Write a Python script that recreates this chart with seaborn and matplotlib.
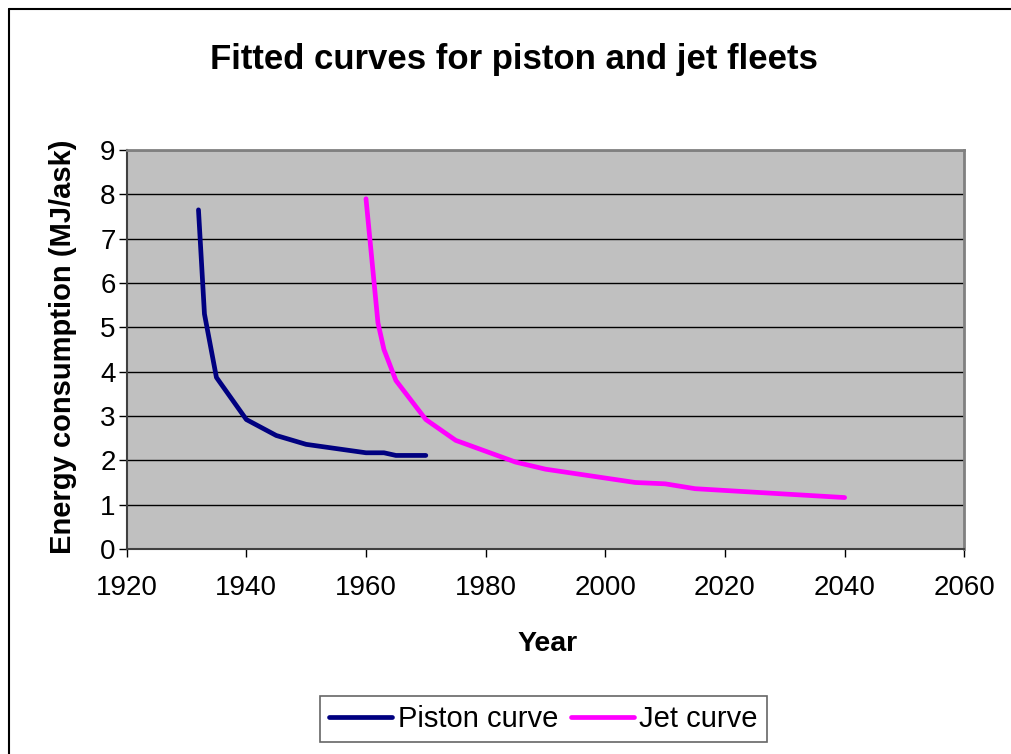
import matplotlib
matplotlib.use("Agg")
import matplotlib.pyplot as plt
import seaborn as sns
import pandas as pd
from matplotlib.lines import Line2D

piston_years = [1932, 1933, 1935, 1940, 1945, 1950, 1960, 1963, 1965, 1970]
piston_vals = [7.65, 5.3, 3.87, 2.92, 2.56, 2.36, 2.17, 2.17, 2.11, 2.11]
jet_years = [1960, 1962, 1963, 1965, 1970, 1975, 1985, 1990, 2005, 2010, 2015, 2040]
jet_vals = [7.9, 5.1, 4.5, 3.8, 2.92, 2.45, 1.96, 1.8, 1.5, 1.47, 1.36, 1.16]
series_names = ["Piston curve", "Jet curve"]
x_ticks = [1920, 1940, 1960, 1980, 2000, 2020, 2040, 2060]
y_ticks = list(range(0, 10))

df = pd.concat([
    pd.DataFrame({"Year": piston_years, "E": piston_vals, "Series": series_names[0]}),
    pd.DataFrame({"Year": jet_years, "E": jet_vals, "Series": series_names[1]}),
])

sns.set_theme(style="white")
plt.rcParams["font.family"] = ["Liberation Sans", "DejaVu Sans"]
plt.rcParams["text.color"] = "black"
plt.rcParams["xtick.color"] = "black"
plt.rcParams["ytick.color"] = "black"

fig = plt.figure(figsize=(10.11, 7.54), dpi=100)
ax = fig.add_axes([0.1253, 0.2719, 0.8285, 0.5292])
ax.set_facecolor("#C0C0C0")

sns.lineplot(data=df, x="Year", y="E", hue="Series", sort=False,
             palette={"Piston curve": "#000080", "Jet curve": "#FF00FF"},
             linewidth=3.4, ax=ax, legend=False, estimator=None)

ax.set_xlim(1920, 2060)
ax.set_ylim(0, 9)
ax.set_xticks(x_ticks)
ax.set_yticks(y_ticks)
ax.yaxis.grid(True, color="black", linewidth=1.0)
ax.xaxis.grid(False)
ax.set_axisbelow(True)
ax.tick_params(axis="both", which="both", direction="out", length=6, width=1,
               color="black", labelsize=20, labelcolor="black")
ax.tick_params(axis="x", pad=13, bottom=True)
ax.tick_params(axis="y", pad=2, left=True)
for s in ["left", "bottom"]:
    ax.spines[s].set_color("#404040")
    ax.spines[s].set_linewidth(1.5)
for s in ["top", "right"]:
    ax.spines[s].set_color("#808080")
    ax.spines[s].set_linewidth(2)
ax.set_xlabel("")
ax.set_ylabel("")

fig.text(0.5085, 0.908, "Fitted curves for piston and jet fleets",
         ha="center", va="baseline", fontsize=25, fontweight="bold", color="black")
fig.text(0.0705, 0.5405, "Energy consumption (MJ/ask)", rotation=90, rotation_mode="anchor",
         ha="center", va="baseline", fontsize=21, fontweight="bold", color="black")
fig.text(0.5415, 0.137, "Year", ha="center", va="baseline", fontsize=20.5,
         fontweight="bold", color="black")

handles = [Line2D([], [], color="#000080", lw=3.4), Line2D([], [], color="#FF00FF", lw=3.4)]
leg = fig.legend(handles, series_names, loc="center", bbox_to_anchor=(0.5375, 0.0464),
                 ncol=2, fontsize=21, frameon=True, fancybox=False, handlelength=2.16,
                 handletextpad=0.2, columnspacing=0.43, borderpad=0.3)
leg.get_frame().set_edgecolor("#404040")
leg.get_frame().set_linewidth(1.2)
for t in leg.get_texts():
    t.set_color("black")

fig.add_artist(Line2D([9 / 1011, 9 / 1011], [0, 1 - 9 / 754], transform=fig.transFigure,
                      color="black", lw=1.5))
fig.add_artist(Line2D([9 / 1011, 1], [1 - 9 / 754, 1 - 9 / 754], transform=fig.transFigure,
                      color="black", lw=1.5))

fig.savefig("out.png", dpi=100)
